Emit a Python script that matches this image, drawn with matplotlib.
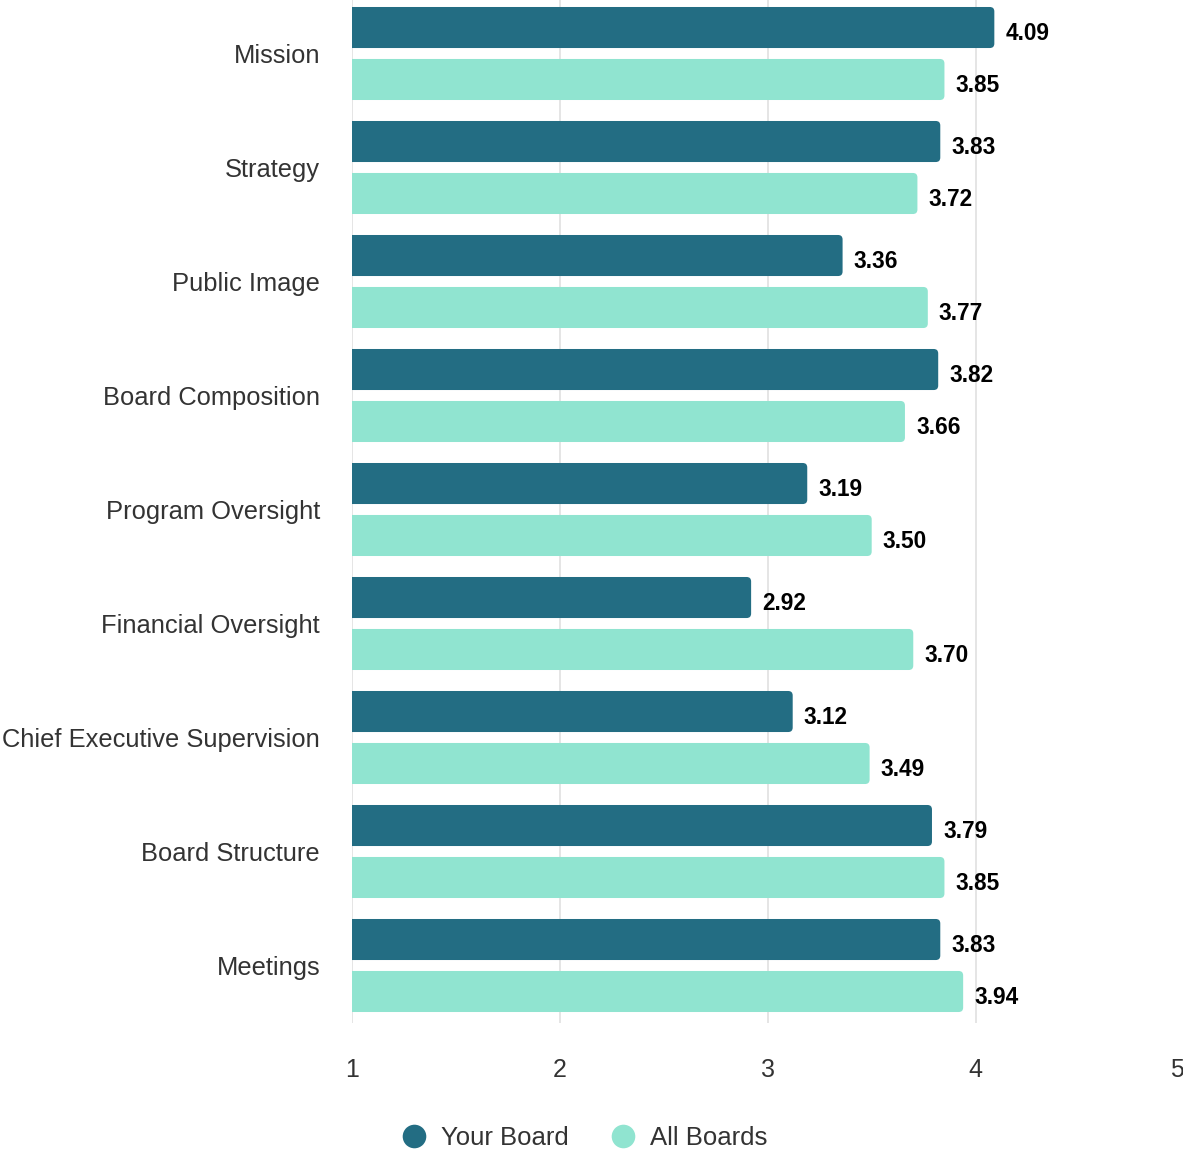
import numpy as np
import matplotlib
matplotlib.use("Agg")
import matplotlib.pyplot as plt
from matplotlib.patches import FancyBboxPatch
from matplotlib.lines import Line2D

plt.rcParams["font.family"] = ["Liberation Sans", "DejaVu Sans"]

categories = ["Mission", "Strategy", "Public Image", "Board Composition",
              "Program Oversight", "Financial Oversight",
              "Chief Executive Supervision", "Board Structure", "Meetings"]
your_board = [4.09, 3.83, 3.36, 3.82, 3.19, 2.92, 3.12, 3.79, 3.83]
all_boards = [3.85, 3.72, 3.77, 3.66, 3.50, 3.70, 3.49, 3.85, 3.94]
series_names = ["Your Board", "All Boards"]
x_ticks = [1, 2, 3, 4, 5]

dark = "#236d83"
light = "#90e4d0"
text_grey = "#333333"

W, H = 1183, 1149
fig = plt.figure(figsize=(W / 100, H / 100), dpi=100)
ax = fig.add_axes([352 / W, 1 - 1022.5 / H, 831.5 / W, 1026 / H])

ax.set_xlim(1, 5)
ax.set_ylim(len(categories) - 0.5, -0.5)

y = np.arange(len(categories))
offset = 0.228
bar_h = 0.36

ax.set_xticks(x_ticks)
ax.set_xticklabels([str(t) for t in x_ticks])
ax.grid(axis="x", color="#e3e3e3", linewidth=1.3, zorder=0)
ax.set_axisbelow(True)
ax.set_yticks(y)
ax.set_yticklabels(categories)
ax.tick_params(axis="y", length=0, pad=23, labelsize=18.4, labelcolor=text_grey)
ax.tick_params(axis="x", length=0, pad=25.5, labelsize=18, labelcolor=text_grey)
for s in ax.spines.values():
    s.set_visible(False)
labels = ax.get_xticklabels()
labels[-1].set_horizontalalignment("right")
labels[0].set_horizontalalignment("center")
# the last gridline falls on the figure edge and is not shown
ax.get_xgridlines()[-1].set_visible(False)

fig.canvas.draw()
# pixel scale per data unit, for round corners of equal size in both directions
p0 = ax.transData.transform((1, 0))
p1 = ax.transData.transform((2, 1))
px_x = abs(p1[0] - p0[0])
px_y = abs(p1[1] - p0[1])
radius_px = 4.5
rx = radius_px / px_x
aspect = (radius_px / px_y) / rx
ext = 0.06

def rounded_bars(values, ypos, color):
    bars = ax.barh(ypos, np.array(values) - 1, left=1, height=bar_h, color=color)
    for rect, v in zip(bars, values):
        x0, y0 = rect.get_x(), rect.get_y()
        w, h = rect.get_width(), rect.get_height()
        rect.remove()
        patch = FancyBboxPatch((x0 - ext, y0), w + ext, h,
                               boxstyle=f"round,pad=0,rounding_size={rx}",
                               mutation_aspect=aspect, facecolor=color,
                               edgecolor="none", zorder=2)
        ax.add_patch(patch)
        ax.annotate(f"{v:.2f}", xy=(v, y0 + h / 2), xytext=(11, -6),
                    textcoords="offset pixels", ha="left", va="center",
                    fontsize=16.3, fontweight="bold", color="black")

rounded_bars(your_board, y - offset, dark)
rounded_bars(all_boards, y + offset, light)

handles = [Line2D([], [], marker="o", linestyle="none", markersize=17,
                  markerfacecolor=c, markeredgecolor="none")
           for c in (dark, light)]
leg = fig.legend(handles, series_names, loc="center",
                 bbox_to_anchor=(584 / W, 1 - 1138 / H), ncol=2, frameon=False,
                 fontsize=18.5, handletextpad=0.55, columnspacing=1.6,
                 handlelength=1.0, borderpad=0)
for t in leg.get_texts():
    t.set_color(text_grey)

fig.savefig("out.png", dpi=100)
